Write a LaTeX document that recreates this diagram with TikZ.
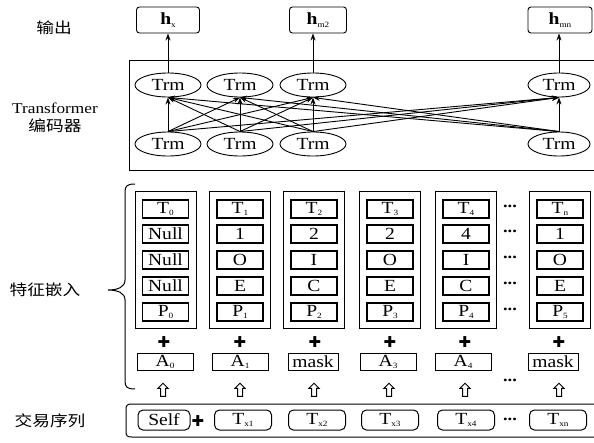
\documentclass[tikz,border=0pt]{standalone}
\usepackage{fontspec}
\setmainfont{Liberation Serif}[FakeStretch=1.15]
\newfontfamily\cjk{Noto Sans CJK SC}[FakeStretch=1.18]
\newfontfamily\symf{DejaVu Sans}
\usetikzlibrary{shapes.geometric,shapes.arrows,arrows.meta}

\newcommand{\subx}[1]{\raisebox{-2.5pt}{\fontsize{8}{8}\selectfont #1}}

\begin{document}
\begin{tikzpicture}[
  x=1pt, y=-1pt,
  every node/.style={font=\fontsize{17}{19}\selectfont, inner sep=0pt},
  arr/.style={->, >={Stealth[length=7pt,width=5pt]}, line width=0.9pt},
  lbl/.style={font=\cjk\fontsize{15}{17}\selectfont},
  outbox/.style={draw, line width=0.9pt, rounded corners=3pt, minimum width=60pt, minimum height=26pt},
  trm/.style={draw, line width=0.9pt, ellipse, minimum width=66pt, minimum height=24pt},
  col/.style={draw, line width=0.9pt, minimum width=61pt, minimum height=137pt},
  cell/.style={draw, line width=1.3pt, minimum width=46pt, minimum height=18pt},
  abox/.style={draw, line width=0.9pt, minimum width=56pt, minimum height=17pt},
  seq/.style={draw, line width=1pt, rounded corners=5pt, minimum width=57pt, minimum height=20pt},
  plus/.style={font=\symf\fontsize{15}{15}\selectfont},
  uparr/.style={draw, line width=1pt, single arrow, shape border rotate=90, inner sep=2pt,
    minimum height=13pt, single arrow head extend=2.6pt, single arrow head indent=0pt},
  dots/.style={font=\bfseries\fontsize{16}{16}\selectfont}
]
\useasboundingbox (0,0) rectangle (594,442);

% Row labels
\node[lbl] (Lout) at (54,28) {输出};
\node[font=\fontsize{15}{17}\selectfont] (Ltrf) at (55,108) {Transformer};
\node[lbl] (Lenc) at (55,126) {编码器};
\node[lbl] (Lemb) at (45,290) {特征嵌入};
\node[lbl] (Lseq) at (50,421) {交易序列};

% Output
\node[outbox, minimum width=63pt] (out1) at (168,20) {\textbf{h}\subx{x}};
\node[outbox, minimum width=57pt] (out2) at (318,20) {\textbf{h}\subx{m2}};
\node[outbox, minimum width=64pt] (out3) at (560,20) {\textbf{h}\subx{mn}};

% Transformer encoder
\draw[line width=1pt] (594,60) -| (129,170) -- (594,170);

\node[trm] (enc1) at (168,85) {Trm};
\node[trm] (enc2) at (240,85) {Trm};
\node[trm] (enc3) at (313,85) {Trm};
\node[trm, minimum width=62pt] (enc4) at (559,85) {Trm};

\node[trm] (low1) at (168,144) {Trm};
\node[trm] (low2) at (240,144) {Trm};
\node[trm] (low3) at (313,144) {Trm};
\node[trm, minimum width=62pt] (low4) at (559,144) {Trm};

\draw[arr] (low1.north) -- (enc1.south);
\draw[arr] (low1.north) -- (enc2.south);
\draw[arr] (low1.north) -- (enc3.south);
\draw[arr] (low1.north) -- (enc4.south);
\draw[arr] (low2.north) -- (enc1.south);
\draw[arr] (low2.north) -- (enc2.south);
\draw[arr] (low2.north) -- (enc3.south);
\draw[arr] (low2.north) -- (enc4.south);
\draw[arr] (low3.north) -- (enc1.south);
\draw[arr] (low3.north) -- (enc2.south);
\draw[arr] (low3.north) -- (enc3.south);
\draw[arr] (low3.north) -- (enc4.south);
\draw[arr] (low4.north) -- (enc1.south);
\draw[arr] (low4.north) -- (enc2.south);
\draw[arr] (low4.north) -- (enc3.south);
\draw[arr] (low4.north) -- (enc4.south);

\draw[arr] (enc1.north) -- (out1.south);
\draw[arr] (enc3.north) -- (enc3.north |- out2.south);
\draw[arr] (enc4.north) -- (enc4.north |- out3.south);

% Feature embedding brace
\draw[line width=1pt] (135,184) .. controls (127,184) and (125,186) .. (125,192)
  -- (125,280) .. controls (125,287) and (118,290) .. (108,290)
  .. controls (118,290) and (125,293) .. (125,300)
  -- (125,381) .. controls (125,387) and (127,389) .. (135,389);

% Embedding columns
\node[col] (col1) at (165.5,259.5) {};
\node[col] (col2) at (240,259.5) {};
\node[col] (col3) at (314,259.5) {};
\node[col] (col4) at (390,259.5) {};
\node[col] (col5) at (466,259.5) {};
\node[col] (col6) at (560,259.5) {};

\node[cell] (c11) at (165.5,209) {T\subx{0}};
\node[cell] (c12) at (165.5,234) {Null};
\node[cell] (c13) at (165.5,260) {Null};
\node[cell] (c14) at (165.5,286) {Null};
\node[cell] (c15) at (165.5,312) {P\subx{0}};

\node[cell] (c21) at (240,209) {T\subx{1}};
\node[cell] (c22) at (240,234) {1};
\node[cell] (c23) at (240,260) {O};
\node[cell] (c24) at (240,286) {E};
\node[cell] (c25) at (240,312) {P\subx{1}};

\node[cell] (c31) at (314,209) {T\subx{2}};
\node[cell] (c32) at (314,234) {2};
\node[cell] (c33) at (314,260) {I};
\node[cell] (c34) at (314,286) {C};
\node[cell] (c35) at (314,312) {P\subx{2}};

\node[cell] (c41) at (390,209) {T\subx{3}};
\node[cell] (c42) at (390,234) {2};
\node[cell] (c43) at (390,260) {O};
\node[cell] (c44) at (390,286) {E};
\node[cell] (c45) at (390,312) {P\subx{3}};

\node[cell] (c51) at (466,209) {T\subx{4}};
\node[cell] (c52) at (466,234) {4};
\node[cell] (c53) at (466,260) {I};
\node[cell] (c54) at (466,286) {C};
\node[cell] (c55) at (466,312) {P\subx{4}};

\node[cell] (c61) at (560,209) {T\subx{n}};
\node[cell] (c62) at (560,234) {1};
\node[cell] (c63) at (560,260) {O};
\node[cell] (c64) at (560,286) {E};
\node[cell] (c65) at (560,312) {P\subx{5}};

\node[dots] (d1) at (510,206) {...};
\node[dots] (d2) at (510,231) {...};
\node[dots] (d3) at (510,257) {...};
\node[dots] (d4) at (510,283) {...};
\node[dots] (d5) at (510,309) {...};

% Plus signs
\node[plus] (p1) at (164,342) {✚};
\node[plus] (p2) at (240,342) {✚};
\node[plus] (p3) at (315,342) {✚};
\node[plus] (p4) at (390,342) {✚};
\node[plus] (p5) at (465,342) {✚};
\node[plus] (p6) at (559,342) {✚};

% Attribute row
\node[abox] (a1) at (165,362) {A\subx{0}};
\node[abox] (a2) at (240,362) {A\subx{1}};
\node[abox, minimum width=50pt] (a3) at (313,362) {mask};
\node[abox] (a4) at (388,362) {A\subx{3}};
\node[abox] (a5) at (463,362) {A\subx{4}};
\node[abox, minimum width=50pt] (a6) at (553,362) {mask};
\node[dots] (d6) at (510,380) {...};

% Input arrows
\node[uparr] (u1) at (163,391) {};
\node[uparr] (u2) at (240,391) {};
\node[uparr] (u3) at (314,391) {};
\node[uparr] (u4) at (389,391) {};
\node[uparr] (u5) at (465,391) {};
\node[uparr] (u6) at (559,391) {};

% Transaction sequence
\draw[line width=1pt] (594,404) -- (132,404) .. controls (127,404) and (126,405) .. (126,410)
  -- (126,431) .. controls (126,436) and (127,437) .. (132,437) -- (594,437);

\node[seq, minimum width=52pt] (s0) at (164,420) {Self};
\node[plus] (p0) at (198,421) {✚};
\node[seq] (s1) at (243,420) {T\subx{x1}};
\node[seq] (s2) at (317,420) {T\subx{x2}};
\node[seq] (s3) at (390,420) {T\subx{x3}};
\node[seq] (s4) at (466,420) {T\subx{x4}};
\node[dots] (d7) at (510,419) {...};
\node[seq] (s5) at (558,420) {T\subx{xn}};

\end{tikzpicture}
\end{document}
